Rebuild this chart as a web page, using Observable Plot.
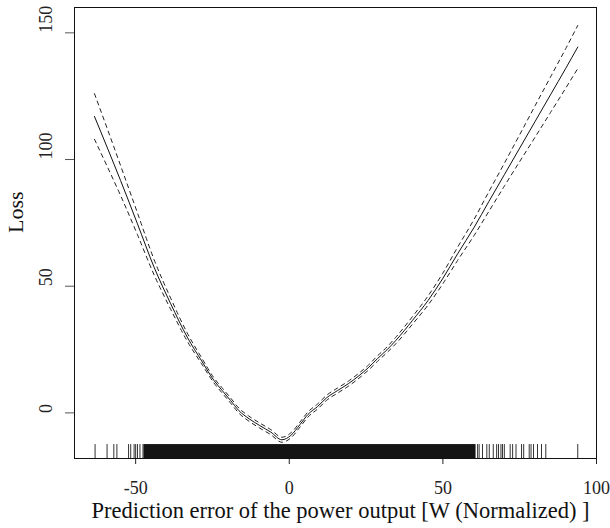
<!DOCTYPE html>
<html>
<head>
<meta charset="utf-8">
<script src="https://cdn.jsdelivr.net/npm/d3@7"></script>
<script src="https://cdn.jsdelivr.net/npm/@observablehq/plot@0.6"></script>
<style>
  html, body { margin: 0; padding: 0; background: #fff; }
  #chart svg { display: block; }
</style>
</head>
<body>
<div id="chart"></div>
<script>
// Fitted smooth (solid line): x = prediction error, fit = loss
const xs = [-63.4, -59, -54.9, -49.4, -44.0, -38.6, -33.2, -28.5, -24.5, -21.8, -19.1, -16.4, -13.1, -9.6, -6.0, -2.4, 0.5, 3.5, 6.1, 9.2, 12.2, 15.7, 19.2, 22.4, 25.7, 28.7, 31.8, 34.7, 40.1, 45.2, 49.9, 54.8, 60.2, 65, 70, 75, 80, 85, 90, 93.9];
const fit = [117.0, 104.0, 91.7, 74.6, 57.5, 43.1, 29.9, 20.5, 12.8, 8.8, 4.9, 0.9, -2.3, -5.0, -7.6, -10.6, -8.9, -4.6, -0.6, 2.5, 6.0, 8.8, 11.5, 14.4, 17.8, 21.4, 24.9, 28.6, 36.5, 44.4, 52.9, 62.8, 73.3, 83.5, 94.0, 104.5, 115.0, 125.5, 136.0, 144.4];
// Half-width of the confidence band (2 s.e.)
const band = [9.0, 7.4, 5.9, 4.3, 3.0, 2.2, 1.6, 1.2, 1.0, 1.0, 1.0, 1.0, 1.0, 1.0, 1.0, 1.0, 1.0, 1.0, 1.0, 1.0, 1.0, 1.0, 1.0, 1.0, 1.0, 1.1, 1.1, 1.3, 1.5, 1.8, 2.1, 2.6, 3.2, 3.9, 4.5, 5.3, 6.2, 7.0, 7.8, 8.5];

// Rug of observations
const rugLeft = [-63.2, -59.3, -57.1, -56.1, -52.3, -51.6, -50.5, -50.0, -49.4, -48.6, -47.6];
const rugDense = [{from: -47.3, to: 60.8}];
const rugRight = [61.3, 61.8, 62.9, 64.3, 65.1, 66.4, 67.5, 68.1, 68.9, 69.4, 70.0, 71.9, 72.7, 73.8, 75.6, 76.3, 78.1, 78.7, 79.5, 80.8, 82.1, 83.5, 93.9];

const xTicks = [-50, 0, 50, 100];
const yTicks = [0, 50, 100, 150];
const xTitle = "Prediction error of the power output [W (Normalized) ]";
const yTitle = "Loss";

const rows = xs.map((x, i) => ({x, fit: fit[i], lo: fit[i] - band[i], hi: fit[i] + band[i]}));
const rug = rugLeft.concat(rugRight);

const yMin = -18, rugTop = -12.5;
const serif = "'Liberation Serif', 'DejaVu Serif', serif";
const fmt = d => (d < 0 ? "-" + Math.abs(d) : String(d));

const chart = Plot.plot({
  width: 610,
  height: 528,
  marginLeft: 74,
  marginRight: 14,
  marginTop: 7,
  marginBottom: 70,
  style: {fontFamily: serif, background: "#fff"},
  x: {domain: [-69.9, 100]},
  y: {domain: [yMin, 160]},
  marks: [
    Plot.axisX({ticks: xTicks, tickSize: 6, tickFormat: () => "", label: null, stroke: "#222"}),
    Plot.axisY({ticks: yTicks, tickSize: 9, tickFormat: () => "", label: null, stroke: "#555"}),
    Plot.text(xTicks, {x: d => d, text: fmt, frameAnchor: "bottom", dy: 35, fontSize: 18, fill: "#222", fontFamily: serif}),
    Plot.text(yTicks, {y: d => d, text: fmt, frameAnchor: "left", dx: -28, rotate: -90, fontSize: 18, fill: "#222", fontFamily: serif}),
    Plot.text([xTitle], {text: d => d, frameAnchor: "bottom", dx: 5, dy: 59, fontSize: 22.5, fill: "#111", fontFamily: serif}),
    Plot.text([yTitle], {text: d => d, frameAnchor: "left", dx: -59, rotate: -90, fontSize: 22, fill: "#111", fontFamily: serif}),
    Plot.rect(rugDense, {x1: "from", x2: "to", y1: yMin, y2: rugTop, fill: "#141414"}),
    Plot.ruleX(rug, {x: d => d, y1: yMin, y2: rugTop, stroke: "#333", strokeWidth: 1}),
    Plot.line(rows, {x: "x", y: "hi", stroke: "#222", strokeWidth: 1, strokeDasharray: "4,4", curve: "monotone-x"}),
    Plot.line(rows, {x: "x", y: "lo", stroke: "#222", strokeWidth: 1, strokeDasharray: "4,4", curve: "monotone-x"}),
    Plot.line(rows, {x: "x", y: "fit", stroke: "#111", strokeWidth: 1, curve: "monotone-x"}),
    Plot.frame({stroke: "#111", strokeWidth: 1})
  ]
});
document.getElementById("chart").appendChild(chart);
</script>
</body>
</html>
